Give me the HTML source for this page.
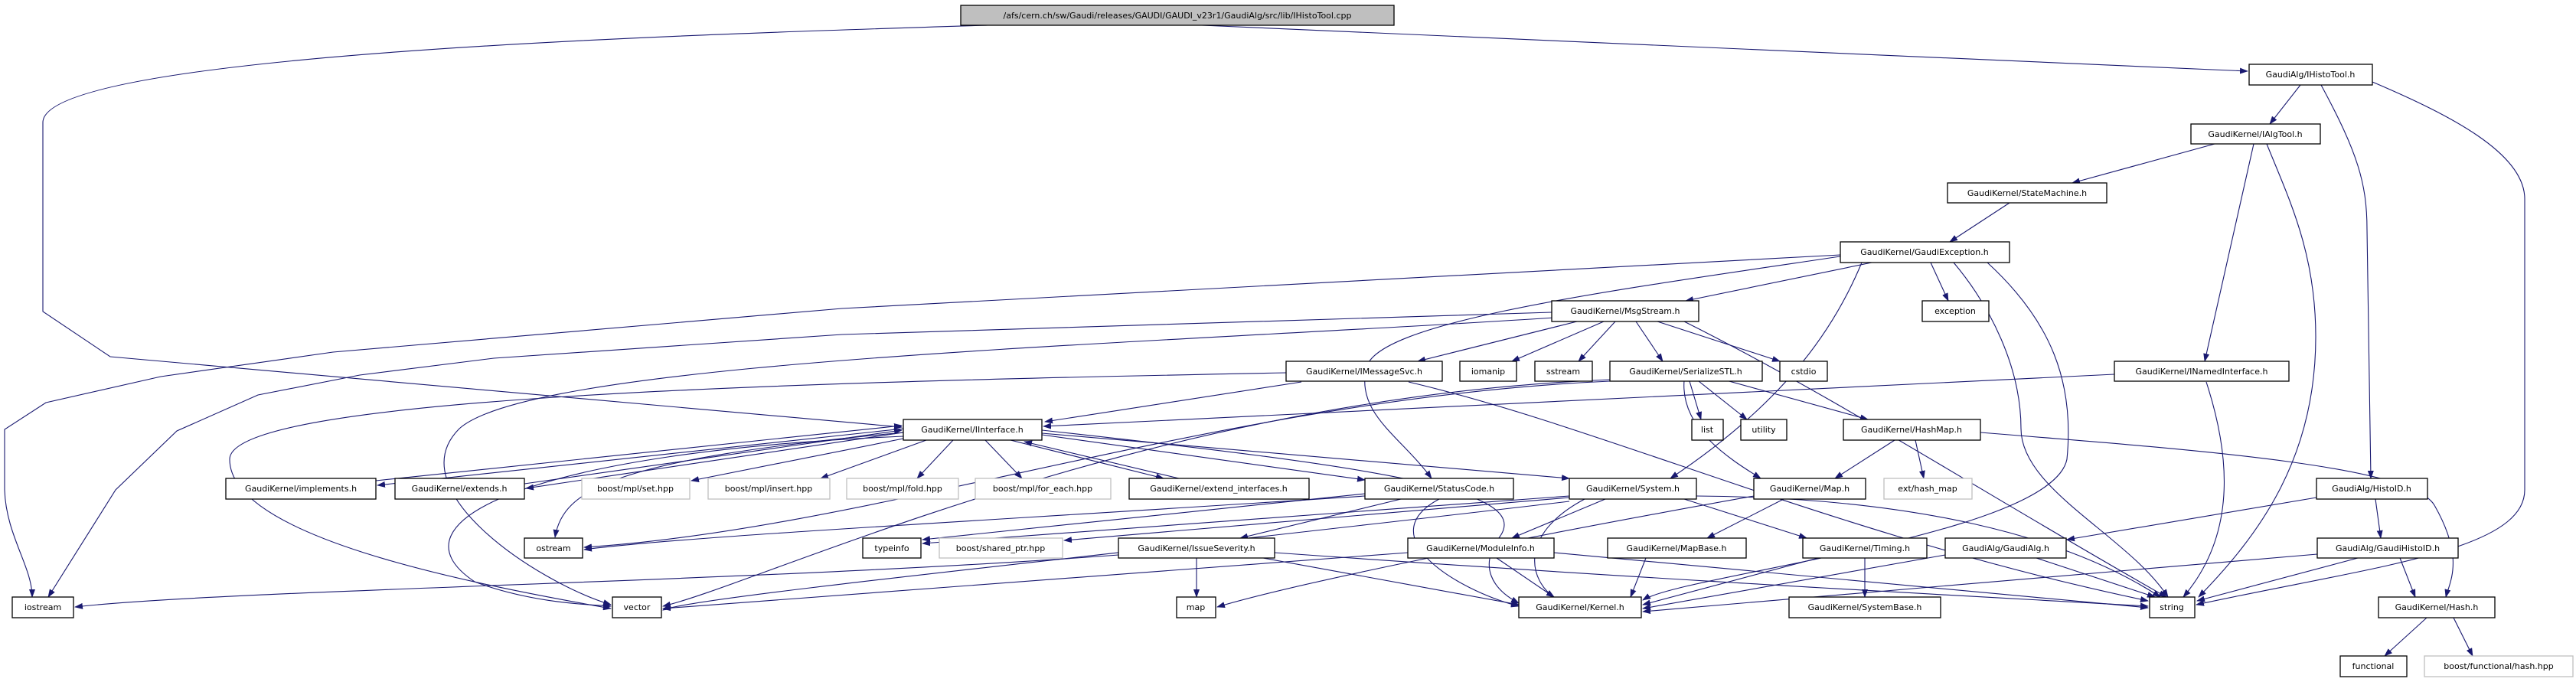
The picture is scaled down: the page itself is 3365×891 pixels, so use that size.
<!DOCTYPE html>
<html><head><meta charset="utf-8"><style>
html,body{margin:0;padding:0;background:#fff;}
svg{display:block;}
text{font-family:"DejaVu Sans","Liberation Sans",sans-serif;font-size:11px;fill:#000;}
.e{fill:none;stroke:#191970;stroke-width:1.1;marker-end:url(#a);}
.n{fill:#fff;stroke:#000;stroke-width:1.3;}
.g{fill:#fff;stroke:#bfbfbf;stroke-width:1.3;}
</style></head><body>
<svg width="3365" height="891" viewBox="0 0 3365 891" xmlns="http://www.w3.org/2000/svg">
<defs><marker id="a" markerUnits="userSpaceOnUse" markerWidth="11" markerHeight="8" refX="10" refY="4" orient="auto"><path d="M0,0 L11,4 L0,8 z" fill="#191970"/></marker></defs>
<g>
<path class="e" d="M1570,33 L2936,93"/>
<path class="e" d="M1290,33 C900,45 56,70 56,160 L56,407 L144,466 L1178,558"/>
<path class="e" d="M3005,111 L2965,162"/>
<path class="e" d="M3032,111 C3080,200 3092,240 3092,300 L3097,625"/>
<path class="e" d="M3099,107 C3200,150 3298,200 3298,260 L3298,640 C3298,720 3100,740 2869,790"/>
<path class="e" d="M2893,188 L2707,239"/>
<path class="e" d="M2944,188 L2880,472"/>
<path class="e" d="M2961,188 C2990,260 3025,330 3025,440 C3025,600 2950,700 2872,780"/>
<path class="e" d="M2625,265 L2547,316"/>
<path class="e" d="M2445,343 L2202,393"/>
<path class="e" d="M2522,343 L2545,393"/>
<path class="e" d="M2552,343 C2600,400 2640,480 2640,560 C2640,640 2780,700 2832,780"/>
<path class="e" d="M2596,343 C2680,420 2710,500 2700,600 C2680,700 2200,750 2146,784"/>
<path class="e" d="M2404,335 C2100,380 1800,420 1785,480 C1770,540 1830,570 1870,625"/>
<path class="e" d="M2432,343 C2400,420 2340,520 2182,625"/>
<path class="e" d="M2404,333 L1100,403 L435,460 L210,492 L60,526 L6,561 L6,640 C8,700 42,740 42,780"/>
<path class="e" d="M2027,408 L1100,437 L645,468 L470,490 L337,516 L231,563 L151,640 L63,780"/>
<path class="e" d="M2060,420 L1852,472"/>
<path class="e" d="M2095,420 L1975,472"/>
<path class="e" d="M2110,420 L2062,472"/>
<path class="e" d="M2137,420 L2172,472"/>
<path class="e" d="M2165,420 L2325,472"/>
<path class="e" d="M2200,420 C2400,520 2600,650 2830,780"/>
<path class="e" d="M2030,415 C1500,450 700,470 600,560 C520,640 700,760 798,790"/>
<path class="e" d="M1700,499 L1365,551"/>
<path class="e" d="M1680,487 C1000,500 300,520 300,600 C300,700 600,760 798,795"/>
<path class="e" d="M1840,499 C2100,560 2400,700 2806,785"/>
<path class="e" d="M2762,489 L1363,557"/>
<path class="e" d="M2103,498 C1600,520 1150,690 763,715"/>
<path class="e" d="M2103,496 C1500,520 1000,760 866,792"/>
<path class="e" d="M2207,498 L2222,548"/>
<path class="e" d="M2219,498 L2282,548"/>
<path class="e" d="M2255,497 L2440,548"/>
<path class="e" d="M2200,497 C2195,560 2260,600 2300,625"/>
<path class="e" d="M2475,575 L2397,625"/>
<path class="e" d="M2502,575 L2513,625"/>
<path class="e" d="M2587,565 C2900,590 3150,610 3180,660 C3220,730 3200,760 3195,780"/>
<path class="e" d="M2330,652 L2230,703"/>
<path class="e" d="M2291,648 C2000,700 1700,760 1590,793"/>
<path class="e" d="M2150,729 L2130,780"/>
<path class="e" d="M2882,499 C2915,600 2920,700 2852,780"/>
<path class="e" d="M1180,560 L493,634"/>
<path class="e" d="M491,628 L1178,556"/>
<path class="e" d="M1180,565 L687,638"/>
<path class="e" d="M685,632 L1178,562"/>
<path class="e" d="M1185,572 L903,628"/>
<path class="e" d="M1210,575 L1072,625"/>
<path class="e" d="M1245,575 L1198,625"/>
<path class="e" d="M1287,575 L1335,625"/>
<path class="e" d="M1320,575 L1520,625"/>
<path class="e" d="M1540,625 L1338,577"/>
<path class="e" d="M1361,568 L1783,627"/>
<path class="e" d="M1361,566 L2050,625"/>
<path class="e" d="M1180,565 C800,600 735,640 725,702"/>
<path class="e" d="M1361,562 C1800,610 2000,640 1960,700 C1930,740 1950,770 1984,788"/>
<path class="e" d="M1180,570 C700,590 500,680 620,760 C700,790 780,790 798,792"/>
<path class="e" d="M1830,652 L1620,703"/>
<path class="e" d="M1880,652 C1790,700 1900,770 1984,792"/>
<path class="e" d="M1783,648 C1300,680 900,700 763,718"/>
<path class="e" d="M1783,645 L1205,705"/>
<path class="e" d="M2050,648 L1205,710"/>
<path class="e" d="M2050,650 L1390,706"/>
<path class="e" d="M2097,652 L1975,703"/>
<path class="e" d="M2200,652 L2360,703"/>
<path class="e" d="M2070,652 C1980,700 2000,760 2030,780"/>
<path class="e" d="M2216,648 C2500,650 2700,700 2822,780"/>
<path class="e" d="M2050,655 C1500,720 900,780 866,797"/>
<path class="e" d="M1563,729 L1563,780"/>
<path class="e" d="M1650,729 L1984,790"/>
<path class="e" d="M1665,722 C2200,760 2600,780 2806,792"/>
<path class="e" d="M1461,725 C1000,760 300,770 98,793"/>
<path class="e" d="M1955,729 L2030,780"/>
<path class="e" d="M2030,722 L2806,794"/>
<path class="e" d="M1839,722 L866,795"/>
<path class="e" d="M2436,729 L2436,780"/>
<path class="e" d="M2375,729 L2146,790"/>
<path class="e" d="M2541,725 L2146,795"/>
<path class="e" d="M2660,729 L2815,780"/>
<path class="e" d="M3026,650 L2700,705"/>
<path class="e" d="M3103,652 L3110,703"/>
<path class="e" d="M3027,724 L2146,799"/>
<path class="e" d="M3080,729 L2870,785"/>
<path class="e" d="M3135,729 L3155,780"/>
<path class="e" d="M3170,807 L3115,857"/>
<path class="e" d="M3205,807 L3230,857"/>
</g>
<g text-anchor="middle">
<rect x="1255" y="7" width="566" height="26" fill="#bfbfbf" stroke="#000" stroke-width="1.3"/><text x="1538" y="24">/afs/cern.ch/sw/Gaudi/releases/GAUDI/GAUDI_v23r1/GaudiAlg/src/lib/IHistoTool.cpp</text>
<rect class="n" x="2938" y="84" width="161" height="27"/><text x="3018" y="101">GaudiAlg/IHistoTool.h</text>
<rect class="n" x="2862" y="162" width="169" height="26"/><text x="2946" y="179">GaudiKernel/IAlgTool.h</text>
<rect class="n" x="2544" y="239" width="208" height="26"/><text x="2648" y="256">GaudiKernel/StateMachine.h</text>
<rect class="n" x="2404" y="316" width="221" height="27"/><text x="2514" y="333">GaudiKernel/GaudiException.h</text>
<rect class="n" x="2027" y="393" width="192" height="27"/><text x="2123" y="410">GaudiKernel/MsgStream.h</text>
<rect class="n" x="2511" y="393" width="87" height="27"/><text x="2554" y="410">exception</text>
<rect class="n" x="1680" y="472" width="204" height="26"/><text x="1782" y="489">GaudiKernel/IMessageSvc.h</text>
<rect class="n" x="1907" y="472" width="74" height="26"/><text x="1944" y="489">iomanip</text>
<rect class="n" x="2005" y="472" width="75" height="26"/><text x="2042" y="489">sstream</text>
<rect class="n" x="2103" y="472" width="199" height="26"/><text x="2202" y="489">GaudiKernel/SerializeSTL.h</text>
<rect class="n" x="2325" y="472" width="62" height="26"/><text x="2356" y="489">cstdio</text>
<rect class="n" x="2762" y="472" width="228" height="26"/><text x="2876" y="489">GaudiKernel/INamedInterface.h</text>
<rect class="n" x="1180" y="548" width="181" height="27"/><text x="1270" y="565">GaudiKernel/IInterface.h</text>
<rect class="n" x="2210" y="548" width="41" height="27"/><text x="2230" y="565">list</text>
<rect class="n" x="2274" y="548" width="60" height="27"/><text x="2304" y="565">utility</text>
<rect class="n" x="2408" y="548" width="179" height="27"/><text x="2497" y="565">GaudiKernel/HashMap.h</text>
<rect class="n" x="295" y="625" width="196" height="27"/><text x="393" y="642">GaudiKernel/implements.h</text>
<rect class="n" x="516" y="625" width="169" height="27"/><text x="600" y="642">GaudiKernel/extends.h</text>
<rect class="g" x="760" y="625" width="141" height="27"/><text x="830" y="642">boost/mpl/set.hpp</text>
<rect class="g" x="925" y="625" width="159" height="27"/><text x="1004" y="642">boost/mpl/insert.hpp</text>
<rect class="g" x="1106" y="625" width="146" height="27"/><text x="1179" y="642">boost/mpl/fold.hpp</text>
<rect class="g" x="1274" y="625" width="177" height="27"/><text x="1362" y="642">boost/mpl/for_each.hpp</text>
<rect class="n" x="1475" y="625" width="235" height="27"/><text x="1592" y="642">GaudiKernel/extend_interfaces.h</text>
<rect class="n" x="1783" y="625" width="194" height="27"/><text x="1880" y="642">GaudiKernel/StatusCode.h</text>
<rect class="n" x="2050" y="625" width="166" height="27"/><text x="2133" y="642">GaudiKernel/System.h</text>
<rect class="n" x="2291" y="625" width="146" height="27"/><text x="2364" y="642">GaudiKernel/Map.h</text>
<rect class="g" x="2461" y="625" width="115" height="27"/><text x="2518" y="642">ext/hash_map</text>
<rect class="n" x="3026" y="625" width="145" height="27"/><text x="3098" y="642">GaudiAlg/HistoID.h</text>
<rect class="n" x="685" y="703" width="76" height="26"/><text x="723" y="720">ostream</text>
<rect class="n" x="1127" y="703" width="76" height="26"/><text x="1165" y="720">typeinfo</text>
<rect class="g" x="1227" y="703" width="161" height="26"/><text x="1307" y="720">boost/shared_ptr.hpp</text>
<rect class="n" x="1461" y="703" width="204" height="26"/><text x="1563" y="720">GaudiKernel/IssueSeverity.h</text>
<rect class="n" x="1839" y="703" width="191" height="26"/><text x="1934" y="720">GaudiKernel/ModuleInfo.h</text>
<rect class="n" x="2100" y="703" width="181" height="26"/><text x="2190" y="720">GaudiKernel/MapBase.h</text>
<rect class="n" x="2355" y="703" width="162" height="26"/><text x="2436" y="720">GaudiKernel/Timing.h</text>
<rect class="n" x="2541" y="703" width="158" height="26"/><text x="2620" y="720">GaudiAlg/GaudiAlg.h</text>
<rect class="n" x="3027" y="703" width="184" height="26"/><text x="3119" y="720">GaudiAlg/GaudiHistoID.h</text>
<rect class="n" x="16" y="780" width="80" height="27"/><text x="56" y="797">iostream</text>
<rect class="n" x="800" y="780" width="64" height="27"/><text x="832" y="797">vector</text>
<rect class="n" x="1537" y="780" width="51" height="27"/><text x="1562" y="797">map</text>
<rect class="n" x="1984" y="780" width="160" height="27"/><text x="2064" y="797">GaudiKernel/Kernel.h</text>
<rect class="n" x="2337" y="780" width="198" height="27"/><text x="2436" y="797">GaudiKernel/SystemBase.h</text>
<rect class="n" x="2808" y="780" width="59" height="27"/><text x="2837" y="797">string</text>
<rect class="n" x="3107" y="780" width="152" height="27"/><text x="3183" y="797">GaudiKernel/Hash.h</text>
<rect class="n" x="3057" y="857" width="87" height="27"/><text x="3100" y="874">functional</text>
<rect class="g" x="3167" y="857" width="194" height="27"/><text x="3264" y="874">boost/functional/hash.hpp</text>
</g>
</svg>
</body></html>
